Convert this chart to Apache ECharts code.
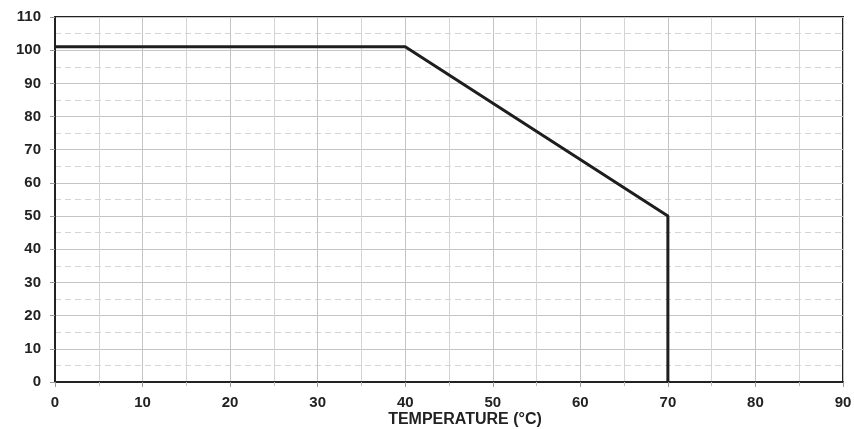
<!DOCTYPE html>
<html>
<head>
<meta charset="utf-8">
<script src="https://cdn.jsdelivr.net/npm/echarts@6/dist/echarts.min.js"></script>
<style>html,body{margin:0;padding:0;background:#fff}#c{width:854px;height:429px}</style>
</head>
<body>
<div id="c"></div>
<script>
var temperature = [0, 40, 70, 70];
var percentLoad = [101, 101, 50, 0];
var xAxisName = 'TEMPERATURE (°C)';

var chart = echarts.init(document.getElementById('c'), null, {renderer: 'canvas'});
var data = temperature.map(function (t, i) { return [t, percentLoad[i]]; });
var labelStyle = {color: '#222', fontFamily: 'Liberation Sans, Arial, sans-serif', fontWeight: 'bold', fontSize: 15};
chart.setOption({
  animation: false,
  grid: {left: 55, right: 11, top: 17, bottom: 47, show: true, borderColor: '#222', borderWidth: 2, containLabel: false, outerBoundsMode: 'none'},
  xAxis: {
    type: 'value', min: 0, max: 90, interval: 10,
    name: xAxisName, nameLocation: 'middle', nameGap: 30, nameMoveOverlap: false,
    nameTextStyle: {color: '#222', fontFamily: 'Liberation Sans, Arial, sans-serif', fontWeight: 'bold', fontSize: 16, padding: [0, 0, 0, 32]},
    axisLine: {show: true, lineStyle: {color: '#222', width: 2}},
    axisTick: {show: true, length: 5, lineStyle: {color: '#999', width: 1}},
    axisLabel: Object.assign({margin: 13}, labelStyle),
    splitLine: {show: true, lineStyle: {color: '#c4c4c4', width: 1}},
    minorTick: {show: true, splitNumber: 2, length: 4, lineStyle: {color: '#bbb'}},
    minorSplitLine: {show: true, lineStyle: {color: '#d4d4d4', width: 1}}
  },
  yAxis: {
    type: 'value', min: 0, max: 110, interval: 10,
    axisLine: {show: true, lineStyle: {color: '#222', width: 2}},
    axisTick: {show: true, length: 5, lineStyle: {color: '#999', width: 1}},
    axisLabel: Object.assign({margin: 14}, labelStyle),
    splitLine: {show: true, lineStyle: {color: '#c4c4c4', width: 1}},
    minorTick: {show: false, splitNumber: 2},
    minorSplitLine: {show: true, lineStyle: {color: '#d4d4d4', width: 1, type: [6, 4]}}
  },
  series: [{
    type: 'line', data: data, symbol: 'none',
    lineStyle: {color: '#1e1e1e', width: 3}
  }]
});
</script>
</body>
</html>
